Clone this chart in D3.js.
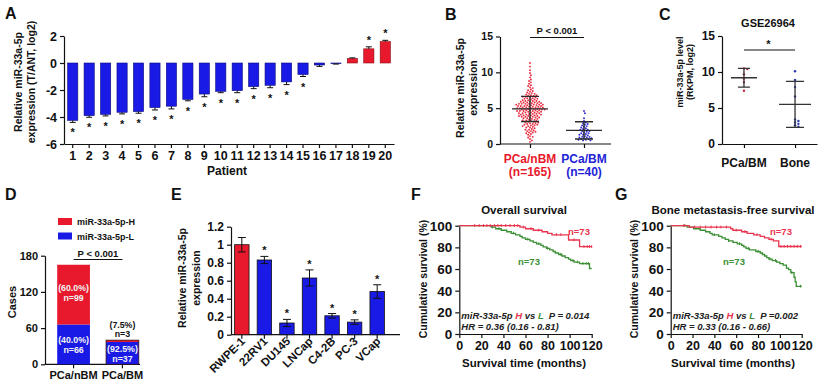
<!DOCTYPE html>
<html>
<head>
<meta charset="utf-8">
<script src="https://cdn.jsdelivr.net/npm/d3@7"></script>
<style>
  body { margin: 0; background: #fff; }
</style>
</head>
<body>
<div id="chart"></div>
<script>
/* multi-panel figure: miR-33a-5p expression, cases and survival */

// ---- A: per patient ----
const patients = ["1","2","3","4","5","6","7","8","9","10","11","12","13","14","15","16","17","18","19","20"];
const aValues = [-4.25,-3.9,-3.8,-3.65,-3.6,-3.3,-3.2,-2.7,-2.3,-2.1,-2.05,-1.75,-1.65,-1.4,-0.85,-0.15,-0.05,0.33,1.05,1.58];
const aErrors = [0.15,0.12,0.12,0.12,0.12,0.18,0.2,0.1,0.2,0.1,0.15,0.15,0.18,0.2,0.15,0.1,0.03,0.05,0.15,0.1];
const aStars = [1,1,1,1,1,1,1,1,1,1,1,1,1,1,1,0,0,0,1,1];
const aTicks = [-6,-4,-2,0,2];

// ---- B: scatter ----
const bGroups = ["PCa/nBM","PCa/BM"];
const bCounts = ["(n=165)","(n=40)"];
const bNBM = [11.3,10.8,10.3,9.9,9.6,9.3,9.0,8.8,8.6,8.4,8.2,8.1,7.9,7.8,7.6,7.5,
  7.4,7.3,7.2,7.1,7.0,7.0,6.9,6.8,6.8,6.7,6.7,6.6,6.6,6.5,6.5,
  6.4,6.4,6.3,6.3,6.2,6.2,6.1,6.1,6.0,6.0,6.0,5.9,5.9,5.9,5.8,5.8,5.8,5.7,5.7,5.7,5.6,5.6,5.6,5.6,5.5,5.5,5.5,5.5,
  5.4,5.4,5.4,5.3,5.3,5.3,5.3,5.2,5.2,5.2,5.1,5.1,5.1,5.1,5.0,5.0,5.0,5.0,4.9,4.9,4.9,4.9,4.8,4.8,4.8,4.7,4.7,4.7,4.7,4.6,4.6,4.6,4.6,4.5,4.5,4.5,
  4.4,4.4,4.4,4.3,4.3,4.3,4.2,4.2,4.2,4.1,4.1,4.1,4.0,4.0,4.0,3.9,3.9,3.9,3.8,3.8,3.8,3.7,3.7,3.7,3.6,3.6,3.5,3.5,
  3.4,3.4,3.3,3.3,3.2,3.2,3.1,3.1,3.0,3.0,2.9,2.9,2.8,2.8,2.7,2.7,2.6,2.6,2.5,2.5,
  2.4,2.3,2.3,2.2,2.1,2.0,2.0,1.9,1.8,1.8,1.7,1.6,1.6,1.5,
  1.4,1.3,1.1,1.0,0.9,0.7,0.5,0.3];
const bBM = [4.6,4.3,3.6,3.2,3.0,2.9,2.8,2.7,2.6,2.5,2.4,2.3,2.2,2.1,2.0,2.0,1.9,1.8,1.8,1.7,
  1.6,1.5,1.5,1.4,1.3,1.3,1.2,1.1,1.0,1.0,0.9,0.9,0.8,0.8,0.7,0.7,0.6,0.6,0.5,0.5];
const bMeans = [4.9, 1.9];
const bSD = [1.75, 1.2];
const bTicks = [0,5,10,15];

// ---- C: GSE26964 ----
const cGroups = ["PCa/BM","Bone"];
const cPCa = [10.5,10.4,9.7,9.1,8.6,7.4];
const cBone = [10.1,8.9,7.9,6.6,3.4,3.2,3.0,2.8,2.6,2.4];
const cMeans = [9.2, 5.5];
const cSD = [1.3, 3.2];
const cTicks = [0,5,10,15];

// ---- D: cases ----
const dGroups = ["PCa/nBM","PCa/BM"];
const dLow = [66, 37];
const dHigh = [99, 3];
const dLowPct = ["(40.0%)","(92.5%)"];
const dHighPct = ["(60.0%)","(7.5%)"];
const dTicks = [0,60,120,180];

// ---- E: cell lines ----
const eLines = ["RWPE-1","22RV1","DU145","LNCap","C4-2B","PC-3","VCap"];
const eValues = [1.0,0.83,0.13,0.63,0.21,0.14,0.48];
const eErrors = [0.08,0.04,0.04,0.09,0.025,0.025,0.075];
const eStars = [0,1,1,1,1,1,1];
const eTicks = [0,0.2,0.4,0.6,0.8,1,1.2];

// ---- F / G: Kaplan-Meier steps [month, %] ----
const fHigh = [[0,100],[55,98.6],[60,97.2],[67,95.8],[75,94.4],[80,93.0],[84,91.6],[99,86.8],[109,80.6],[120,80.6]];
const fLow = [[0,100],[29,98.6],[33,97.2],[38,95.8],[43,94.4],[47,93.0],[51,91.6],[55,90.2],[57,88.8],[60,87.4],[64,86.0],
  [67,84.6],[70,83.2],[74,81.8],[76,80.4],[79,79.0],[82,77.6],[85,76.2],[87,74.8],[90,73.4],[93,72.0],[96,70.6],
  [99,69.2],[101,67.8],[104,66.4],[109,65.0],[118,60.5],[120,60.5]];
const fHighCens = [14,18,22,25,28,32,35,38,42,46,50,53,58,65,72,88,92,104,113,116,118,120];
const fLowCens = [30,36,49,62,72,80,92,103,107,112,115,117];

const gHigh = [[0,100],[17,98.6],[55,97.2],[57,95.8],[65,94.4],[70,93.0],[76,91.6],[82,90.2],[86,88.8],[90,87.4],[94,86.0],[99,80.8],[120,80.8]];
const gLow = [[0,100],[15,98.6],[21,97.2],[27,95.8],[32,94.4],[36,93.0],[38,91.6],[44,90.2],[47,88.8],[50,87.4],[53,86.0],
  [57,84.6],[61,83.2],[65,81.8],[67,80.4],[69,79.0],[72,77.6],[78,76.2],[82,74.8],[84,73.4],[86,72.0],[88,70.6],
  [90,69.2],[93,67.8],[97,66.4],[100,65.0],[103,63.6],[106,60.8],[108,59.4],[110,56.6],[113,52.4],[114,48.2],[115,44.0],[120,44.0]];
const gHighCens = [12,22,27,32,37,42,46,51,60,68,79,92,101,104,107,110,113,116,119];
const gLowCens = [13,40,53,63,71,80,91,96,111,119];

const kmTicksX = [0,20,40,60,80,100,120];
const kmTicksY = [0,20,40,60,80,100];

const FONT = "'Liberation Sans', Arial, Helvetica, sans-serif";
const RED = "#e8192c", BLUE = "#1a1ae6", KMRED = "#e8344e", KMGREEN = "#3b8f35";
const INK = "#111";

const svg = d3.select("#chart").append("svg")
    .attr("width", 821).attr("height", 386)
    .attr("font-family", FONT);

function axisStyle(g, fs) {
    g.attr("font-family", FONT).attr("font-size", fs).attr("font-weight", "bold");
    g.selectAll("path, line").attr("stroke", INK).attr("stroke-width", 1.2);
    g.selectAll("text").attr("fill", INK);
}

function txt(g, x, y, s, fs, opts = {}) {
    return g.append("text")
        .attr("x", x).attr("y", y)
        .attr("font-size", fs)
        .attr("font-weight", opts.weight || "bold")
        .attr("font-style", opts.style || "normal")
        .attr("text-anchor", opts.anchor || "middle")
        .attr("fill", opts.fill || INK)
        .text(s);
}

function vlabel(g, x, y, s, fs) {
    return g.append("text")
        .attr("transform", `translate(${x},${y}) rotate(-90)`)
        .attr("text-anchor", "middle")
        .attr("dy", "0.35em")
        .attr("font-size", fs).attr("font-weight", "bold")
        .attr("fill", INK)
        .text(s);
}

// simple beeswarm: nearest free horizontal offset
function swarm(vals, y, r) {
    const pts = vals.map(v => ({v: v, y: y(v), x: 0})).sort((a, b) => a.y - b.y);
    const placed = [];
    for (const p of pts) {
        for (let k = 0; k < 400; k++) {
            const off = (k % 2 ? 1 : -1) * Math.ceil(k / 2) * r * 0.8;
            if (placed.every(q => (q.x - off) ** 2 + (q.y - p.y) ** 2 >= (2 * r) ** 2)) {
                p.x = off;
                break;
            }
        }
        placed.push(p);
    }
    return pts;
}

// panel letters
[["A",5,19],["B",445,20],["C",659,20],["D",5,200],["E",171,200],["F",411,200],["G",615,200]]
    .forEach(d => txt(svg, d[1], d[2], d[0], 16, {anchor: "start"}));

/* ---------------- A ---------------- */
const gA = svg.append("g");
const xA = d3.scaleBand().domain(patients).range([64, 394]).paddingInner(0.38).paddingOuter(0.22);
const yA = d3.scaleLinear().domain([-6, 2]).range([144, 36]);
const aData = patients.map((p, i) => ({name: p, v: aValues[i], e: aErrors[i], star: aStars[i]}));

gA.append("g").attr("transform", "translate(0,144)")
    .call(d3.axisBottom(xA).tickSize(4).tickSizeOuter(0))
    .call(g => axisStyle(g, 12.5));
gA.append("g").attr("transform", "translate(64,0)")
    .call(d3.axisLeft(yA).tickValues(aTicks).tickFormat(d => String(d)).tickSize(4).tickSizeOuter(0))
    .call(g => axisStyle(g, 12.5));

const barA = gA.selectAll(".barA").data(aData).join("g").attr("class", "barA");
barA.append("rect")
    .attr("x", d => xA(d.name))
    .attr("width", xA.bandwidth())
    .attr("y", d => yA(Math.max(0, d.v)))
    .attr("height", d => Math.abs(yA(d.v) - yA(0)))
    .attr("fill", d => d.v > 0 ? RED : BLUE)
    .attr("stroke", d => d.v > 0 ? "#8a0a12" : "#0a0a7a").attr("stroke-width", 0.6);
barA.append("path")
    .attr("d", d => {
        const cx = xA(d.name) + xA.bandwidth() / 2;
        const e = d.v >= 0 ? d.v + d.e : d.v - d.e;
        return `M${cx},${yA(d.v)}V${yA(e)}M${cx - 3},${yA(e)}H${cx + 3}`;
    })
    .attr("stroke", INK).attr("stroke-width", 1).attr("fill", "none");
barA.filter(d => d.star).append("text")
    .attr("x", d => xA(d.name) + xA.bandwidth() / 2)
    .attr("y", d => d.v < 0 ? yA(d.v - d.e) + 14 : yA(d.v + d.e) - 3)
    .attr("text-anchor", "middle").attr("font-size", 11).attr("font-weight", "bold")
    .attr("fill", INK).text("*");

txt(gA, 227, 175, "Patient", 12);
vlabel(gA, 18, 82, "Relative miR-33a-5p", 10.5);
vlabel(gA, 31.5, 82, "expression (T/ANT, log2)", 10.5);

/* ---------------- B ---------------- */
const gB = svg.append("g");
const yB = d3.scaleLinear().domain([0, 15]).range([144, 36.5]);
const xB = d3.scalePoint().domain(bGroups).range([503, 611]).padding(0.5);

gB.append("g").attr("transform", "translate(0,144)")
    .call(d3.axisBottom(xB).tickSize(4).tickSizeOuter(0).tickFormat(""))
    .call(g => axisStyle(g, 11))
    .call(g => g.select(".domain").attr("d", "M500,0H611"));
gB.append("g").attr("transform", "translate(500,0)")
    .call(d3.axisLeft(yB).tickValues(bTicks).tickSize(4).tickSizeOuter(0))
    .call(g => axisStyle(g, 10.5));

[[bNBM, "#e8283c"], [bBM, "#2626d2"]].forEach((s, gi) => {
    const cx = xB(bGroups[gi]);
    gB.append("g").selectAll("circle").data(swarm(s[0], yB, 1.15)).join("circle")
        .attr("cx", d => cx + d.x).attr("cy", d => d.y).attr("r", 0.95)
        .attr("fill", s[1]);
    const m = bMeans[gi], sd = bSD[gi];
    gB.append("path")
        .attr("d", `M${cx - 18},${yB(m)}H${cx + 18}M${cx},${yB(m - sd)}V${yB(m + sd)}` +
                   `M${cx - 9},${yB(m - sd)}H${cx + 9}M${cx - 9},${yB(m + sd)}H${cx + 9}`)
        .attr("stroke", "#2a2a2a").attr("stroke-width", 1.4).attr("fill", "none");
});
bGroups.forEach((gname, i) => {
    const col = i === 0 ? RED : "#2323d8";
    txt(gB, xB(gname), 163, gname, 12, {fill: col});
    txt(gB, xB(gname), 175.5, bCounts[i], 12, {fill: col});
});
txt(gB, 557, 34, "P < 0.001", 9.5);
gB.append("line").attr("x1", xB(bGroups[0])).attr("x2", xB(bGroups[1]))
    .attr("y1", 37.5).attr("y2", 37.5).attr("stroke", INK).attr("stroke-width", 1);
vlabel(gB, 460, 88, "Relative miR-33a-5p", 10.5);
vlabel(gB, 473.5, 88, "expression", 10.5);

/* ---------------- C ---------------- */
const gC = svg.append("g");
const yC = d3.scaleLinear().domain([0, 15]).range([144, 36]);
const xC = d3.scalePoint().domain(cGroups).range([722, 817]).padding(0.43);

gC.append("g").attr("transform", "translate(0,144)")
    .call(d3.axisBottom(xC).tickSize(4).tickSizeOuter(0).tickFormat(""))
    .call(g => axisStyle(g, 12));
gC.append("g").attr("transform", "translate(722,0)")
    .call(d3.axisLeft(yC).tickValues(cTicks).tickSize(4).tickSizeOuter(0))
    .call(g => axisStyle(g, 12));

[[cPCa, "#c8283a"], [cBone, "#2a3aa8"]].forEach((s, gi) => {
    const cx = xC(cGroups[gi]);
    gC.append("g").selectAll("circle").data(swarm(s[0], yC, 1.4)).join("circle")
        .attr("cx", d => cx + d.x).attr("cy", d => d.y).attr("r", 1.2)
        .attr("fill", s[1]);
    const m = cMeans[gi], sd = cSD[gi];
    const hw = gi === 0 ? 13 : 16, cw = gi === 0 ? 6 : 9;
    gC.append("path")
        .attr("d", `M${cx - hw},${yC(m)}H${cx + hw}M${cx},${yC(m - sd)}V${yC(m + sd)}` +
                   `M${cx - cw},${yC(m - sd)}H${cx + cw}M${cx - cw},${yC(m + sd)}H${cx + cw}`)
        .attr("stroke", "#333").attr("stroke-width", 1.3).attr("fill", "none");
    txt(gC, cx, 167, cGroups[gi], 12);
});
txt(gC, 768, 27, "GSE26964", 11);
txt(gC, 768.5, 47.5, "*", 11);
gC.append("line").attr("x1", xC(cGroups[0])).attr("x2", xC(cGroups[1]))
    .attr("y1", 50).attr("y2", 50).attr("stroke", INK).attr("stroke-width", 1);
vlabel(gC, 679.5, 72, "miR-33a-5p level", 9);
vlabel(gC, 690, 72, "(RKPM, log2)", 9);

/* ---------------- D ---------------- */
const gD = svg.append("g");
const xD = d3.scaleBand().domain(dGroups).range([45, 151]).paddingInner(0.33).paddingOuter(0.25);
const yD = d3.scaleLinear().domain([0, 180]).range([364.3, 255.7]);

gD.append("g").attr("transform", "translate(0,364.3)")
    .call(d3.axisBottom(xD).tickSize(4).tickSizeOuter(0))
    .call(g => axisStyle(g, 11))
    .call(g => g.select(".domain").attr("d", "M45,0H140"));
gD.append("g").attr("transform", "translate(45,0)")
    .call(d3.axisLeft(yD).tickValues(dTicks).tickSize(4).tickSizeOuter(0))
    .call(g => axisStyle(g, 11));

dGroups.forEach((gname, i) => {
    const x0 = xD(gname), w = xD.bandwidth(), cx = x0 + w / 2;
    gD.append("rect").attr("x", x0).attr("width", w)
        .attr("y", yD(dLow[i])).attr("height", yD(0) - yD(dLow[i])).attr("fill", BLUE);
    gD.append("rect").attr("x", x0).attr("width", w)
        .attr("y", yD(dLow[i] + dHigh[i])).attr("height", yD(dLow[i]) - yD(dLow[i] + dHigh[i])).attr("fill", RED);
    if (i === 1) {
        gD.append("rect").attr("x", x0).attr("width", w)
            .attr("y", yD(dLow[i] + dHigh[i])).attr("height", yD(0) - yD(dLow[i] + dHigh[i]))
            .attr("fill", "none").attr("stroke", "#3a1010").attr("stroke-width", 0.8);
    }
    const lowMid = yD(dLow[i] / 2);
    txt(gD, cx, lowMid - 1.5, dLowPct[i], 8.8, {fill: "#f2f2f2"});
    txt(gD, cx, lowMid + 8.5, "n=" + dLow[i], 8.8, {fill: "#f2f2f2"});
    if (dHigh[i] > 20) {
        const hiMid = yD(dLow[i] + dHigh[i] / 2);
        txt(gD, cx, hiMid - 3.5, dHighPct[i], 8.8, {fill: "#f2f2f2"});
        txt(gD, cx, hiMid + 6, "n=" + dHigh[i], 8.8, {fill: "#f2f2f2"});
    } else {
        const top = yD(dLow[i] + dHigh[i]);
        txt(gD, cx, top - 12.5, dHighPct[i], 8.8);
        txt(gD, cx, top - 3, "n=" + dHigh[i], 8.8);
    }
});
// legend
gD.append("rect").attr("x", 58).attr("y", 218).attr("width", 14).attr("height", 7).attr("fill", RED);
gD.append("rect").attr("x", 58).attr("y", 232.5).attr("width", 14).attr("height", 7).attr("fill", BLUE);
txt(gD, 77, 225, "miR-33a-5p-H", 9, {anchor: "start"});
txt(gD, 77, 239.5, "miR-33a-5p-L", 9, {anchor: "start"});
txt(gD, 98, 257, "P < 0.001", 9.5);
const dTop = xD(dGroups[0]) + xD.bandwidth() / 2, dTop2 = xD(dGroups[1]) + xD.bandwidth() / 2;
gD.append("line").attr("x1", dTop).attr("x2", dTop2).attr("y1", 259.5).attr("y2", 259.5)
    .attr("stroke", INK).attr("stroke-width", 1);
vlabel(gD, 12.5, 302, "Cases", 11);

/* ---------------- E ---------------- */
const gE = svg.append("g");
const xE = d3.scaleBand().domain(eLines).range([231, 388]).paddingInner(0.36).paddingOuter(0.16);
const yE = d3.scaleLinear().domain([0, 1.2]).range([334.7, 226.7]);
const eData = eLines.map((n, i) => ({name: n, v: eValues[i], e: eErrors[i], star: eStars[i]}));

gE.append("g").attr("transform", "translate(0,334.7)")
    .call(d3.axisBottom(xE).tickSize(4).tickSizeOuter(0).tickFormat(""))
    .call(g => axisStyle(g, 11.5))
    .call(g => g.select(".domain").attr("d", "M231,0H400"));
gE.append("g").attr("transform", "translate(231,0)")
    .call(d3.axisLeft(yE).tickValues(eTicks).tickFormat(d => String(d)).tickSize(4).tickSizeOuter(0))
    .call(g => axisStyle(g, 12));

const barE = gE.selectAll(".barE").data(eData).join("g").attr("class", "barE");
barE.append("rect")
    .attr("x", d => xE(d.name)).attr("width", xE.bandwidth())
    .attr("y", d => yE(d.v)).attr("height", d => yE(0) - yE(d.v))
    .attr("fill", (d, i) => i === 0 ? RED : BLUE)
    .attr("stroke", INK).attr("stroke-width", 0.8);
barE.append("path")
    .attr("d", d => {
        const cx = xE(d.name) + xE.bandwidth() / 2;
        const lo = yE(d.v - d.e), hi = yE(d.v + d.e);
        return `M${cx},${lo}V${hi}M${cx - 4},${hi}H${cx + 4}M${cx - 4},${lo}H${cx + 4}`;
    })
    .attr("stroke", INK).attr("stroke-width", 1).attr("fill", "none");
barE.filter(d => d.star).append("text")
    .attr("x", d => xE(d.name) + xE.bandwidth() / 2)
    .attr("y", d => yE(d.v + d.e) - 2)
    .attr("text-anchor", "middle").attr("font-size", 11).attr("font-weight", "bold")
    .attr("fill", INK).text("*");
eLines.forEach(name => {
    const cx = xE(name) + xE.bandwidth() / 2;
    gE.append("text")
        .attr("transform", `translate(${cx + 4},${342}) rotate(-45)`)
        .attr("text-anchor", "end").attr("font-size", 11.5).attr("font-weight", "bold")
        .attr("fill", INK).text(name);
});
vlabel(gE, 182, 278, "Relative miR-33a-5p", 10.5);
vlabel(gE, 196.5, 278, "expression", 10.5);

/* ---------------- F / G ---------------- */
function kmPanel(o) {
    const g = svg.append("g");
    const x = d3.scaleLinear().domain([0, 120]).range([o.x0, o.x1]);
    const y = d3.scaleLinear().domain([0, 100]).range([334, 225.7]);
    g.append("g").attr("transform", "translate(0,334)")
        .call(d3.axisBottom(x).tickValues(kmTicksX).tickSize(4).tickSizeOuter(0))
        .call(gg => axisStyle(gg, 12.5));
    g.append("g").attr("transform", `translate(${o.x0},0)`)
        .call(d3.axisLeft(y).tickValues(kmTicksY).tickSize(4).tickSizeOuter(0))
        .call(gg => axisStyle(gg, 13.5));

    const line = d3.line().x(d => x(d[0])).y(d => y(d[1])).curve(d3.curveStepAfter);
    const stepAt = (arr, t) => {
        let v = arr[0][1];
        for (const p of arr) if (p[0] <= t) v = p[1];
        return v;
    };
    [[o.low, o.lowCens, KMGREEN], [o.high, o.highCens, KMRED]].forEach(s => {
        g.append("path").attr("d", line(s[0]))
            .attr("fill", "none").attr("stroke", s[2]).attr("stroke-width", 1.3);
        g.append("g").selectAll("line").data(s[1]).join("line")
            .attr("x1", t => x(t)).attr("x2", t => x(t))
            .attr("y1", t => y(stepAt(s[0], t)) - 1.6).attr("y2", t => y(stepAt(s[0], t)) + 1.2)
            .attr("stroke", s[2]).attr("stroke-width", 1);
    });

    txt(g, o.titleX, 214, o.title, 11.5);
    txt(g, o.titleX, 367, "Survival time (months)", 11.5);
    vlabel(g, o.ylabX, 279, "Cumulative survival (%)", 10.5);
    txt(g, o.nRed[0], o.nRed[1], "n=73", 9.5, {anchor: "start", fill: KMRED});
    txt(g, o.nGreen[0], o.nGreen[1], "n=73", 9.5, {anchor: "start", fill: KMGREEN});

    const ann = g.append("text").attr("x", o.x0 + 2).attr("y", 319)
        .attr("font-size", 9.5).attr("font-weight", "bold").attr("font-style", "italic")
        .attr("fill", "#222").style("white-space", "pre");
    ann.append("tspan").text("miR-33a-5p ");
    ann.append("tspan").attr("fill", KMRED).text("H");
    ann.append("tspan").text(" vs ");
    ann.append("tspan").attr("fill", KMGREEN).text("L");
    ann.append("tspan").text(o.p);
    g.append("text").attr("x", o.x0 + 2).attr("y", 330)
        .attr("font-size", 9.5).attr("font-weight", "bold").attr("font-style", "italic")
        .attr("fill", "#222").text(o.hr);
}

kmPanel({x0: 459.3, x1: 591.7, title: "Overall survival", titleX: 524, ylabX: 423.5,
    high: fHigh, low: fLow, highCens: fHighCens, lowCens: fLowCens,
    nRed: [568, 235], nGreen: [518, 265],
    p: "  P = 0.014", hr: "HR = 0.36 (0.16 - 0.81)"});
kmPanel({x0: 670.7, x1: 801.7, title: "Bone metastasis-free survival", titleX: 733, ylabX: 634,
    high: gHigh, low: gLow, highCens: gHighCens, lowCens: gLowCens,
    nRed: [770, 235], nGreen: [723, 265],
    p: "  P =0.002", hr: "HR = 0.33 (0.16 - 0.66)"});
</script>
</body>
</html>
